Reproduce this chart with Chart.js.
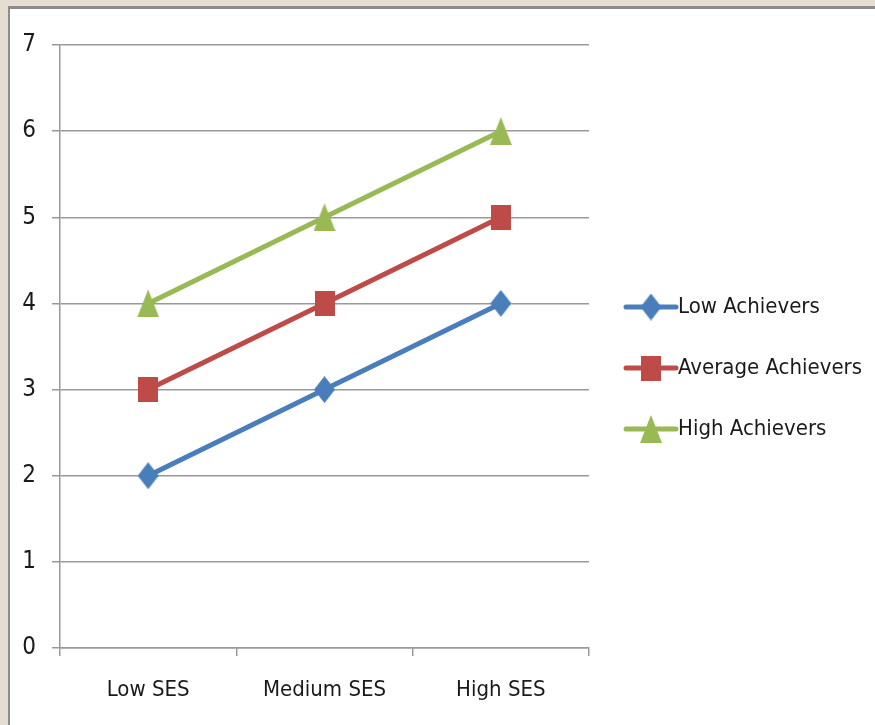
<!DOCTYPE html>
<html>
<head>
<meta charset="utf-8">
<script src="https://cdn.jsdelivr.net/npm/chart.js@4/dist/chart.umd.min.js"></script>
<style>
  html, body { margin: 0; padding: 0; width: 875px; height: 725px; overflow: hidden; background: #e4ddd2; }
  #panel { position: absolute; left: 8px; top: 6px; right: 0; bottom: 0; background: #ffffff;
           border-left: 2px solid #8c8c8c; border-top: 3px solid #8c8c8c; }
  #wrap { position: absolute; left: 0; top: 0; width: 875px; height: 725px; }
</style>
</head>
<body>
<div id="panel"></div>
<div id="wrap"><canvas id="chart" width="875" height="725"></canvas></div>
<script>
// Categories and series
const categories = ['Low SES', 'Medium SES', 'High SES'];
const lowAchievers = [2, 3, 4];
const averageAchievers = [3, 4, 5];
const highAchievers = [4, 5, 6];
const seriesNames = ['Low Achievers', 'Average Achievers', 'High Achievers'];
const yTicks = [0, 1, 2, 3, 4, 5, 6, 7];

const FONT = '"Liberation Sans Narrow", "DejaVu Sans Condensed", "Roboto Condensed", "Liberation Sans", sans-serif';
const TEXT = '#1a1a1a';
const GRID = '#999999';

// Marker sprites (slightly taller than wide)
function sprite(w, h, color, draw) {
  const c = document.createElement('canvas');
  c.width = w; c.height = h;
  const g = c.getContext('2d');
  g.fillStyle = color;
  g.beginPath();
  draw(g, w, h);
  g.closePath();
  g.fill();
  return c;
}
const diamond = sprite(21, 27, '#4a7ebb', (g, w, h) => {
  g.moveTo(w / 2, 0); g.lineTo(w, h / 2); g.lineTo(w / 2, h); g.lineTo(0, h / 2);
});
const square = sprite(20, 25, '#be4b48', (g, w, h) => { g.rect(0, 0, w, h); });
const triangle = sprite(22, 28, '#98b954', (g, w, h) => {
  g.moveTo(w / 2, 0); g.lineTo(w, h); g.lineTo(0, h);
});

// Legend drawn as line + marker samples to the right of the plot
const sideLegend = {
  id: 'sideLegend',
  afterDraw(chart) {
    const ctx = chart.ctx;
    const x0 = 626, x1 = 676, tx = 678;
    const ys = [307, 368, 429];
    chart.data.datasets.forEach((ds, i) => {
      const y = ys[i];
      ctx.save();
      ctx.strokeStyle = ds.borderColor;
      ctx.lineWidth = 5;
      ctx.lineCap = 'round';
      ctx.beginPath();
      ctx.moveTo(x0, y); ctx.lineTo(x1, y);
      ctx.stroke();
      const img = ds.pointStyle;
      ctx.drawImage(img, (x0 + x1) / 2 - img.width / 2, y - img.height / 2);
      ctx.fillStyle = TEXT;
      ctx.font = '22px ' + FONT;
      ctx.textBaseline = 'middle';
      ctx.textAlign = 'left';
      ctx.fillText(ds.label, tx, y);
      ctx.restore();
    });
  }
};

new Chart(document.getElementById('chart'), {
  type: 'line',
  data: {
    labels: categories,
    datasets: [
      { label: seriesNames[0], data: lowAchievers, borderColor: '#4a7ebb', backgroundColor: '#4a7ebb', pointStyle: diamond },
      { label: seriesNames[1], data: averageAchievers, borderColor: '#be4b48', backgroundColor: '#be4b48', pointStyle: square },
      { label: seriesNames[2], data: highAchievers, borderColor: '#98b954', backgroundColor: '#98b954', pointStyle: triangle }
    ]
  },
  options: {
    responsive: false,
    animation: false,
    events: [],
    layout: { padding: { left: 0, top: 45, right: 286, bottom: 0 } },
    elements: {
      line: { borderWidth: 5, tension: 0, fill: false },
      point: { radius: 12, hoverRadius: 12 }
    },
    plugins: { legend: { display: false }, tooltip: { enabled: false } },
    scales: {
      x: {
        type: 'category',
        offset: true,
        afterFit(s) { s.height = 77; },
        grid: { offset: true, drawOnChartArea: false, drawTicks: true, tickLength: 8, color: GRID, lineWidth: 1.5 },
        border: { color: GRID, width: 1.5 },
        ticks: { color: TEXT, font: { family: FONT, size: 22 }, padding: 21, maxRotation: 0 }
      },
      y: {
        min: 0,
        max: 7,
        afterFit(s) { s.width = 60; },
        afterBuildTicks(s) { s.ticks = yTicks.map(v => ({ value: v })); },
        grid: { color: GRID, lineWidth: 1.5, tickLength: 8, drawTicks: true },
        border: { color: GRID, width: 1.5 },
        ticks: { color: TEXT, font: { family: FONT, size: 24 }, padding: 16 }
      }
    }
  },
  plugins: [sideLegend]
});
</script>
</body>
</html>
